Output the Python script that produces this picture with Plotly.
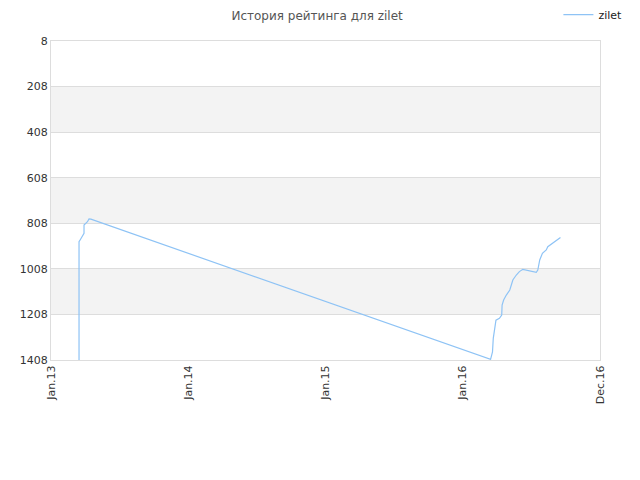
import plotly.graph_objects as go
import pandas as pd
import numpy as np

title = "История рейтинга для zilet"
series_name = "zilet"

dates = [
    "2013-03-15", "2013-03-15", "2013-03-19", "2013-03-25", "2013-03-28", "2013-03-28",
    "2013-04-02", "2013-04-06", "2013-04-10", "2013-04-15",
    "2016-02-20", "2016-02-25", "2016-02-27", "2016-03-01", "2016-03-05", "2016-03-14",
    "2016-03-20", "2016-03-21", "2016-03-25", "2016-04-01", "2016-04-10", "2016-04-14",
    "2016-04-18", "2016-04-27", "2016-05-05", "2016-05-14", "2016-05-23", "2016-06-05",
    "2016-06-18", "2016-06-22", "2016-06-27", "2016-07-04", "2016-07-10", "2016-07-14",
    "2016-07-18", "2016-07-27", "2016-08-09", "2016-08-20",
]
ratings = [
    1408, 889, 878, 864, 852, 816,
    808, 801, 789, 790,
    1405, 1372, 1313, 1276, 1233, 1225,
    1211, 1167, 1145, 1123, 1101, 1079,
    1057, 1035, 1020, 1010, 1013, 1017,
    1023, 1013, 969, 940, 933, 925,
    911, 899, 884, 870,
]

x_start, x_end = "2013-01-01", "2016-12-01"
tick_labels = ["Jan.13", "Jan.14", "Jan.15", "Jan.16", "Dec.16"]
y_ticks = [8, 208, 408, 608, 808, 1008, 1208, 1408]

t0 = pd.Timestamp(x_start).value
t1 = pd.Timestamp(x_end).value
tickvals = [pd.Timestamp(int(v)) for v in np.linspace(t0, t1, len(tick_labels))]

fig = go.Figure()
fig.add_trace(go.Scatter(
    x=pd.to_datetime(dates), y=ratings, mode="lines", name=series_name,
    line=dict(color="#8ec3f5", width=1.2),
))

shapes = []
for i in range(len(y_ticks) - 1):
    if i % 2 == 1:
        shapes.append(dict(type="rect", xref="paper", yref="y", x0=0, x1=1,
                           y0=y_ticks[i], y1=y_ticks[i + 1],
                           fillcolor="#f3f3f3", line=dict(width=0), layer="below"))

fig.update_layout(
    width=640, height=480,
    margin=dict(l=43, r=48, t=33, b=128, autoexpand=False),
    paper_bgcolor="white", plot_bgcolor="white",
    title=dict(text=title, x=0.483, xanchor="center", y=0.984, yanchor="middle",
               font=dict(family="DejaVu Sans", size=12, color="#555555")),
    font=dict(family="DejaVu Sans", size=11, color="#333333"),
    showlegend=True,
    legend=dict(xref="container", yref="container", x=0.86, xanchor="left",
                y=0.986, yanchor="middle",
                bgcolor="rgba(0,0,0,0)", font=dict(size=11, color="#222222"),
                itemwidth=30),
    shapes=shapes,
    xaxis=dict(range=[pd.Timestamp(x_start), pd.Timestamp(x_end)], tickvals=tickvals,
               ticktext=tick_labels, tickangle=-90, showgrid=False,
               showline=True, linecolor="#dddddd", mirror=True, zeroline=False,
               ticks="", tickfont=dict(size=11, color="#333333")),
    yaxis=dict(range=[1408, 8], tickvals=y_ticks, showgrid=True, gridcolor="#dddddd",
               showline=True, linecolor="#dddddd", mirror=True, zeroline=False,
               ticks="", tickfont=dict(size=11, color="#333333")),
)

fig.write_html("out.html")
